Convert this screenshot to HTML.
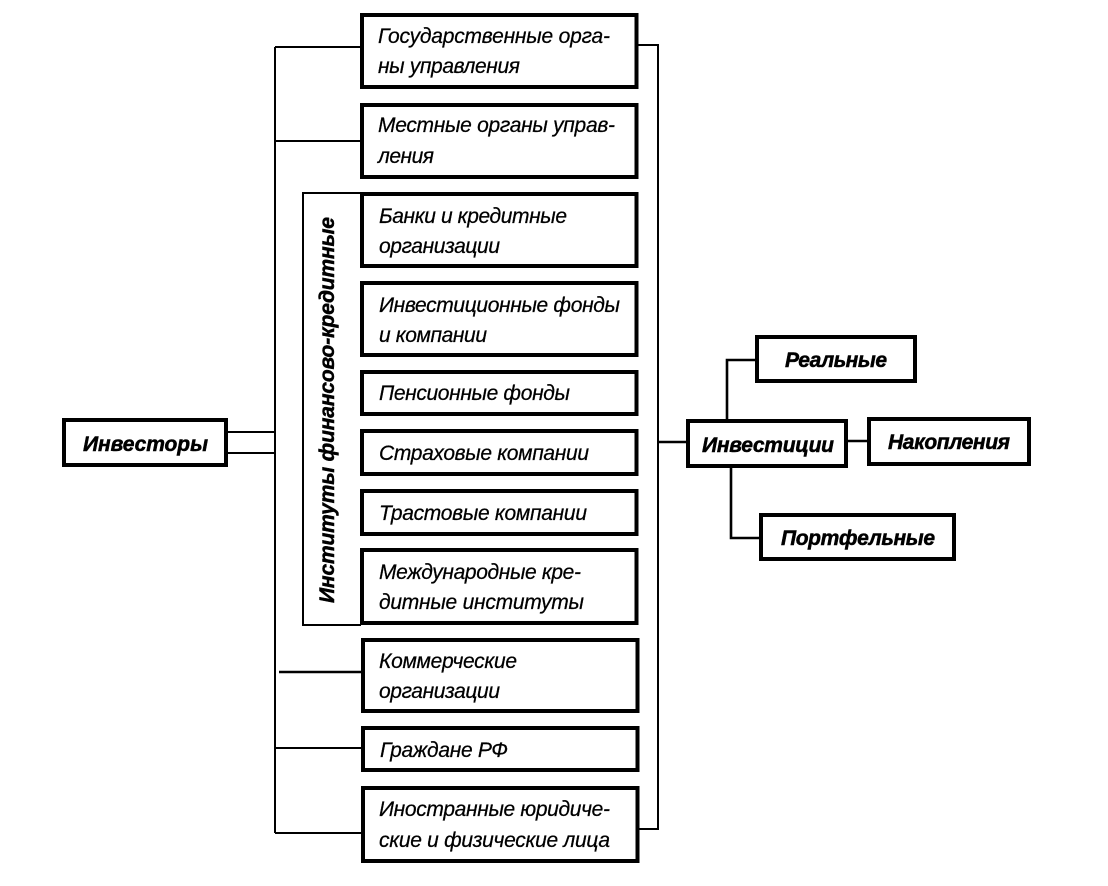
<!DOCTYPE html>
<html><head><meta charset="utf-8"><style>
html,body{margin:0;padding:0;background:#fff}
svg{display:block}
text{font-family:"Liberation Sans",sans-serif;font-style:italic;fill:#000}
.n{font-size:21px;stroke:#000;stroke-width:.25px}
.b{font-size:21px;font-weight:bold;stroke:#000;stroke-width:.5px}
.box rect{fill:#fff;stroke:#000;stroke-width:4px}
.l{fill:none;stroke:#000;stroke-width:2px}
.t{fill:none;stroke:#000;stroke-width:2.6px}
</style></head><body>
<svg width="1108" height="886" viewBox="0 0 1108 886" xmlns="http://www.w3.org/2000/svg">
<path class="l" d="M275 47V833M275 47H362M275 141H362M227 432H275M227 453H275M275 748H362M275 833H362"/>
<path class="t" d="M279 672H362"/>
<path class="l" d="M637 45H658V829H637"/>
<path class="t" d="M658 442H688"/>
<path class="l" d="M361 193H303V625H361"/>
<path class="t" d="M727 420V360H756M731 466V538H762M846 441H869"/>
<g class="box">
<rect x="362" y="15" width="274.5" height="72"/>
<rect x="362" y="105" width="274.5" height="72"/>
<rect x="362" y="194" width="274.5" height="72"/>
<rect x="362" y="283" width="274.5" height="72"/>
<rect x="362" y="372" width="274.5" height="42"/>
<rect x="362" y="431" width="274.5" height="43"/>
<rect x="362" y="491" width="274.5" height="43"/>
<rect x="362" y="550" width="274.5" height="73"/>
<rect x="363" y="640" width="274.5" height="71"/>
<rect x="363" y="728" width="274.5" height="42"/>
<rect x="363" y="788" width="274.5" height="73"/>
<rect x="64" y="420" width="162" height="45"/>
<rect x="688" y="421" width="158" height="45"/>
<rect x="757" y="337" width="158" height="44"/>
<rect x="869" y="419" width="160" height="45"/>
<rect x="761" y="515" width="193" height="44"/>
</g>
<text class="n" x="378" y="43" textLength="232">Государственные орга-</text>
<text class="n" x="378" y="73" textLength="142">ны управления</text>
<text class="n" x="378" y="132" textLength="237">Местные органы управ-</text>
<text class="n" x="378" y="163" textLength="56">ления</text>
<text class="n" x="379" y="223" textLength="188">Банки и кредитные</text>
<text class="n" x="379" y="253" textLength="121">организации</text>
<text class="n" x="379" y="312" textLength="241">Инвестиционные фонды</text>
<text class="n" x="379" y="342" textLength="108">и компании</text>
<text class="n" x="379" y="400" textLength="191">Пенсионные фонды</text>
<text class="n" x="379" y="460" textLength="210">Страховые компании</text>
<text class="n" x="379" y="520" textLength="208">Трастовые компании</text>
<text class="n" x="379" y="579" textLength="202">Международные кре-</text>
<text class="n" x="379" y="609" textLength="205">дитные институты</text>
<text class="n" x="379" y="668" textLength="138">Коммерческие</text>
<text class="n" x="379" y="698" textLength="121">организации</text>
<text class="n" x="380" y="757" textLength="128">Граждане РФ</text>
<text class="n" x="379" y="816" textLength="231">Иностранные юридиче-</text>
<text class="n" x="379" y="847" textLength="231">ские и физические лица</text>
<text class="b" x="83" y="451" textLength="125">Инвесторы</text>
<text class="b" x="702" y="452" textLength="132">Инвестиции</text>
<text class="b" x="785" y="367" textLength="102">Реальные</text>
<text class="b" x="888" y="449" textLength="122">Накопления</text>
<text class="b" x="781" y="545" textLength="154">Портфельные</text>
<text class="b" transform="translate(334 603) rotate(-90)" textLength="386">Институты финансово-кредитные</text>
</svg>
</body></html>
